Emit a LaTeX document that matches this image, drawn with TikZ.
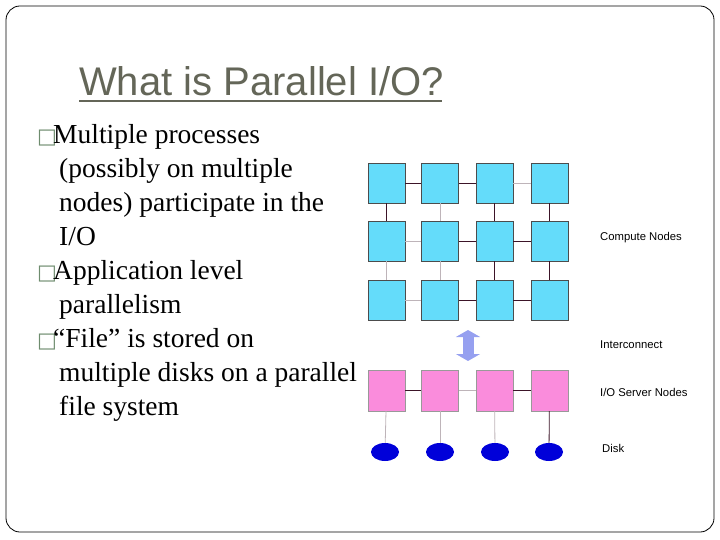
\documentclass[tikz,border=0pt]{standalone}
\usepackage{fontspec}
\setmainfont{Liberation Serif}
\newfontfamily\sansf{Liberation Sans}
\newfontfamily\dejav{DejaVu Sans}
\definecolor{titlec}{RGB}{100,102,88}
\definecolor{bulc}{RGB}{110,140,110}
\definecolor{cn}{RGB}{100,220,250}
\definecolor{io}{RGB}{250,140,220}
\definecolor{dk}{RGB}{60,20,40}
\definecolor{lt}{RGB}{190,180,185}
\definecolor{arr}{RGB}{150,160,240}
\tikzset{
 cbox/.style={draw=black!70,fill=cn,minimum width=37pt,minimum height=40pt,inner sep=0pt,line width=0.6pt},
 iobox/.style={draw=black!40,fill=io,minimum width=37pt,minimum height=41pt,inner sep=0pt},
 disk/.style={ellipse,fill=blue!85!black,minimum width=28pt,minimum height=18pt,inner sep=0pt},
 dl/.style={draw=dk,line width=0.8pt},
 ll/.style={draw=lt,line width=0.8pt},
 lab/.style={font=\sansf\fontsize{11.3}{14}\selectfont,anchor=west,inner sep=0pt},
 body/.style={font=\fontsize{27.5}{34}\selectfont,anchor=north west,align=left,inner sep=0pt}
}
\usetikzlibrary{shapes.geometric,arrows.meta}
\newcommand{\bul}{\makebox[16pt][l]{\dejav\color{bulc}\fontsize{21}{21}\selectfont\char"25A1}}
\newcommand{\ind}{\hspace*{22pt}}
\begin{document}
\begin{tikzpicture}[x=1pt,y=-1pt]
\useasboundingbox (0,0) rectangle (720,540);
\draw[rounded corners=14pt,line width=0.8pt] (6,6) rectangle (714,532);
\node[font=\sansf\fontsize{40}{44}\selectfont,text=titlec,anchor=base west,inner sep=0pt] (title) at (79,96) {What is Parallel I/O?};
\draw[titlec,line width=1.8pt] (79,101) -- (442,101);
\node[body] (t1) at (37,124) {\bul Multiple processes\\\ind(possibly on multiple\\\ind nodes) participate in the\\\ind I/O\\\bul Application level\\\ind parallelism\\\bul``File'' is stored on\\\ind multiple disks on a parallel\\\ind file system};
% compute grid
\foreach \c/\x in {1/386.5,2/440,3/494.5,4/549.5}{
 \foreach \r/\y in {1/183,2/241,3/300.5}{
  \node[cbox] (c\r\c) at (\x,\y) {};
 }
 \node[iobox] (s\c) at (\x,390.5) {};
}
\node[disk] (d1) at (385,452) {};
\node[disk] (d2) at (440,452) {};
\node[disk] (d3) at (495,452) {};
\node[disk] (d4) at (549,452) {};
% horizontal links
\draw[dl] (c11) -- (c12); \draw[dl] (c12) -- (c13); \draw[ll] (c13) -- (c14);
\draw[ll] (c21) -- (c22); \draw[dl] (c22) -- (c23); \draw[dl] (c23) -- (c24);
\draw[ll] (c31) -- (c32); \draw[dl] (c32) -- (c33); \draw[dl] (c33) -- (c34);
\draw[dl] (s1) -- (s2); \draw[ll] (s2) -- (s3); \draw[dl] (s3) -- (s4);
% vertical links
\draw[dl] (c11) -- (c21); \draw[ll] (c12) -- (c22); \draw[dl] (c13) -- (c23); \draw[dl] (c14) -- (c24);
\draw[ll] (c21) -- (c31); \draw[ll] (c22) -- (c32); \draw[dl] (c23) -- (c33); \draw[dl] (c24) -- (c34);
\draw[ll] (s1) -- (d1); \draw[ll] (s2) -- (d2); \draw[ll] (s3) -- (d3); \draw[dl] (s4) -- (d4);
% interconnect arrow
\coordinate (a1) at (468,330); \coordinate (a2) at (468,361);
\draw[line width=11pt,arr,{Triangle[length=7pt,width=24pt]}-{Triangle[length=7pt,width=24pt]}] (a1) -- (a2);
\node[lab] (l1) at (600,238) {Compute Nodes};
\node[lab] (l2) at (600,345) {Interconnect};
\node[lab] (l3) at (600,392) {I/O Server Nodes};
\node[lab] (l4) at (602,448) {Disk};
\end{tikzpicture}
\end{document}
